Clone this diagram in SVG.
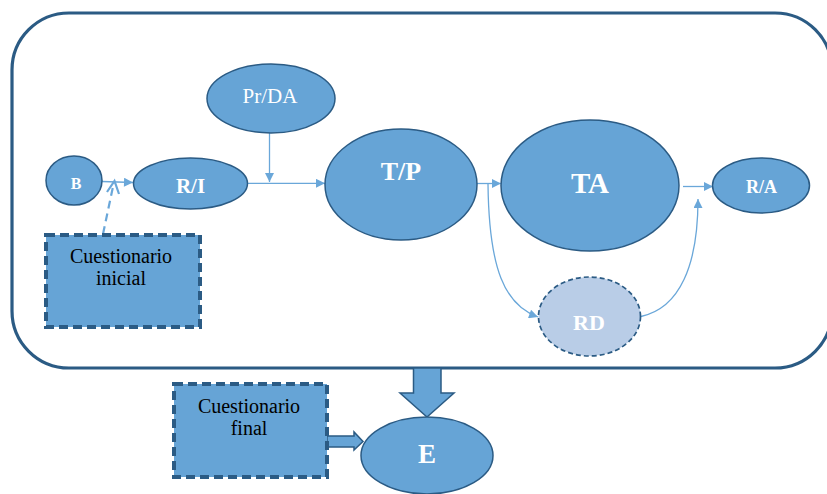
<svg xmlns="http://www.w3.org/2000/svg" width="827" height="494" viewBox="0 0 827 494">
<defs>
<style>
.node{fill:#66a4d6;stroke:#2b5b84;stroke-width:1.5}
.box{fill:#66a4d6;stroke:#2b5b84;stroke-width:4;stroke-dasharray:9 5}
text{font-family:'Liberation Serif','Times New Roman',Times,'DejaVu Serif',serif}
.lbl{fill:#fff;font-weight:bold;text-anchor:middle}
.txt{fill:#000;font-size:20px;text-anchor:middle}
.con{fill:none;stroke:#6aa7d9;stroke-width:1.3}
.block{fill:#66a4d6;stroke:#2b5b84;stroke-width:1.5}
</style>
<marker id="ah" viewBox="0 0 10 10" refX="10" refY="5" markerWidth="11" markerHeight="9" markerUnits="userSpaceOnUse" orient="auto">
<path d="M0,0 L10,5 L0,10 Z" fill="#6aa7d9"/>
</marker>
</defs>
<rect x="12" y="13" width="820" height="355" rx="57" ry="57" fill="#fff" stroke="#2b5b84" stroke-width="3.2"/>
<g id="connectors">
<line class="con" x1="102" y1="181.5" x2="133" y2="182.5" marker-end="url(#ah)"/>
<line x1="103" y1="234" x2="114" y2="182" stroke="#6aa7d9" stroke-width="2.2" stroke-dasharray="8 5"/>
<path d="M107,192 L114.5,181 L119,194" fill="none" stroke="#6aa7d9" stroke-width="2.2"/>
<line class="con" x1="248" y1="183.3" x2="325" y2="183.3" marker-end="url(#ah)"/>
<line class="con" x1="269.5" y1="133" x2="269.5" y2="182" marker-end="url(#ah)"/>
<line class="con" x1="477" y1="183.5" x2="501" y2="183.5" marker-end="url(#ah)"/>
<path class="con" d="M488,184 C489,270 505,305 538,317" marker-end="url(#ah)"/>
<path class="con" d="M641,316.5 C680,308 698,265 698,199" marker-end="url(#ah)"/>
<line class="con" x1="683" y1="186.5" x2="713" y2="186.5" marker-end="url(#ah)"/>
<path class="block" d="M413.5,368 L441,368 L441,393 L454,393 L427,417 L400,393 L413.5,393 Z"/>
<path class="block" d="M327,436 L354,436 L354,432 L363,441.5 L354,450 L354,447 L327,447 Z"/>
</g>
<g id="B"><ellipse class="node" cx="74" cy="180.5" rx="28" ry="24.5"/><text class="lbl" x="76" y="189" font-size="16">B</text></g>
<g id="RI"><ellipse class="node" cx="190.5" cy="183.5" rx="57" ry="25.5"/><text class="lbl" x="190.5" y="193" font-size="21">R/I</text></g>
<g id="PrDA"><ellipse class="node" cx="271" cy="98.5" rx="64" ry="34.5"/><text class="lbl" x="270" y="102.5" font-size="21" style="font-weight:normal">Pr/DA</text></g>
<g id="TP"><ellipse class="node" cx="401" cy="184.5" rx="76" ry="55.5"/><text class="lbl" x="401" y="180" font-size="26">T/P</text></g>
<g id="TA"><ellipse class="node" cx="590" cy="185.5" rx="89" ry="65.5"/><text class="lbl" x="590" y="193" font-size="29">TA</text></g>
<g id="RA"><ellipse class="node" cx="761" cy="185.5" rx="48.5" ry="27.5"/><text class="lbl" x="761.5" y="193" font-size="18">R/A</text></g>
<g id="RD"><ellipse cx="589.5" cy="316.5" rx="51" ry="39.5" fill="#b9cde7" stroke="#2b5b84" stroke-width="1.7" stroke-dasharray="5 3"/><text class="lbl" x="589" y="330" font-size="22">RD</text></g>
<g id="CI"><rect class="box" x="46" y="235" width="154" height="92"/><text class="txt" x="121" y="263">Cuestionario</text><text class="txt" x="121" y="285">inicial</text></g>
<g id="CF"><rect class="box" x="174" y="384" width="153" height="93"/><text class="txt" x="249" y="412.5">Cuestionario</text><text class="txt" x="249" y="435">final</text></g>
<g id="E"><ellipse class="node" cx="427" cy="455.5" rx="66" ry="38.5"/><text class="lbl" x="427" y="463" font-size="27">E</text></g>
</svg>
